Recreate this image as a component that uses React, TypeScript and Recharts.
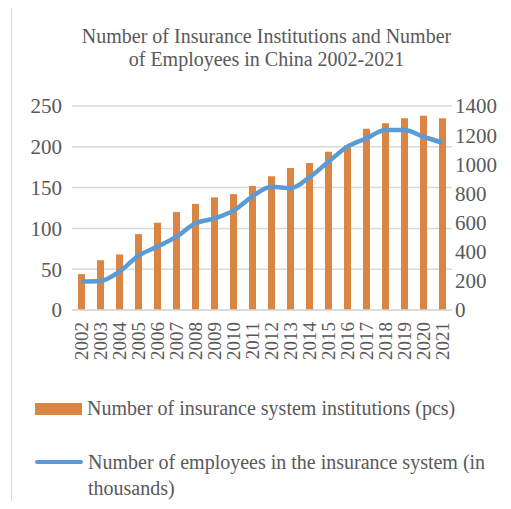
import React from 'react';
import {
  ComposedChart,
  Bar,
  Line,
  XAxis,
  YAxis,
  CartesianGrid,
} from 'recharts';

const years = [
  '2002', '2003', '2004', '2005', '2006', '2007', '2008', '2009', '2010', '2011',
  '2012', '2013', '2014', '2015', '2016', '2017', '2018', '2019', '2020', '2021',
];
const institutions = [44, 61, 68, 93, 107, 120, 130, 138, 142, 152, 164, 174, 180, 194, 202, 222, 229, 235, 238, 235];
const employees = [195, 199, 263, 373, 435, 503, 595, 629, 682, 780, 846, 835, 911, 1018, 1121, 1178, 1235, 1235, 1189, 1148];
const leftTicks = [0, 50, 100, 150, 200, 250];
const rightTicks = [0, 200, 400, 600, 800, 1000, 1200, 1400];

const data = years.map((year, i) => ({
  year,
  institutions: institutions[i],
  employees: employees[i],
}));

const FONT = '"Liberation Serif", "Times New Roman", serif';
const TEXT = '#595959';
const ORANGE = '#DA8543';
const BLUE = '#5B9BD5';

const YearTick = (props: any) => {
  const { x, y, payload } = props;
  return (
    <text
      x={0}
      y={0}
      dy="0.35em"
      transform={`translate(${x},${y}) rotate(-90)`}
      textAnchor="end"
      fill={TEXT}
      fontSize={19}
      fontFamily={FONT}
    >
      {payload.value}
    </text>
  );
};

export default function App() {
  return (
    <div style={{ position: 'relative', width: 511, height: 509, margin: -8, background: '#fff', fontFamily: FONT, overflow: 'hidden' }}>
      <div
        style={{
          position: 'absolute',
          left: 11,
          top: 6,
          right: -5,
          bottom: -5,
          borderLeft: '1.5px solid #dcdcdc',
          borderTop: '1.5px solid #dcdcdc',
        }}
      />
      <div
        style={{
          position: 'absolute',
          left: 0,
          top: 25,
          width: 533,
          textAlign: 'center',
          color: TEXT,
          fontSize: 20,
          lineHeight: '23px',
        }}
      >
        Number of Insurance Institutions and Number
        <br />
        of Employees in China 2002-2021
      </div>
      <div style={{ position: 'absolute', left: 0, top: 0 }}>
        <ComposedChart
          width={511}
          height={380}
          data={data}
          margin={{ top: 106, right: 0, bottom: 0, left: 0 }}
          barCategoryGap={6}
        >
          <CartesianGrid yAxisId="left" vertical={false} stroke="#d9d9d9" strokeWidth={1.5} />
          <XAxis
            dataKey="year"
            height={70}
            interval={0}
            tick={<YearTick />}
            tickLine={false}
            tickSize={0}
            tickMargin={12}
            axisLine={{ stroke: '#d9d9d9', strokeWidth: 1.5 }}
          />
          <YAxis
            yAxisId="left"
            orientation="left"
            width={72}
            domain={[0, 250]}
            ticks={leftTicks}
            interval={0}
            axisLine={false}
            tickLine={false}
            tickSize={0}
            tickMargin={10}
            tick={{ fill: TEXT, fontSize: 21, fontFamily: FONT }}
          />
          <YAxis
            yAxisId="right"
            orientation="right"
            width={59}
            domain={[0, 1400]}
            ticks={rightTicks}
            interval={0}
            axisLine={false}
            tickLine={false}
            tickSize={0}
            tickMargin={3}
            tick={{ fill: TEXT, fontSize: 21, fontFamily: FONT }}
          />
          <Bar yAxisId="left" dataKey="institutions" fill={ORANGE} barSize={7} isAnimationActive={false} />
          <Line
            yAxisId="right"
            dataKey="employees"
            type="monotone"
            stroke={BLUE}
            strokeWidth={4.5}
            dot={false}
            isAnimationActive={false}
          />
        </ComposedChart>
      </div>
      <div style={{ position: 'absolute', left: 35, top: 397, color: TEXT, fontSize: 20 }}>
        <div style={{ display: 'flex', alignItems: 'center' }}>
          <span style={{ width: 47, height: 12, background: ORANGE, display: 'inline-block', marginRight: 5 }} />
          <span>Number of insurance system institutions (pcs)</span>
        </div>
        <div style={{ display: 'flex', alignItems: 'flex-start', marginTop: 29 }}>
          <span style={{ width: 48, height: 4, background: BLUE, display: 'inline-block', marginRight: 5, marginTop: 11, borderRadius: 2 }} />
          <span style={{ lineHeight: '26px', width: 420 }}>
            Number of employees in the insurance system (in thousands)
          </span>
        </div>
      </div>
    </div>
  );
}
